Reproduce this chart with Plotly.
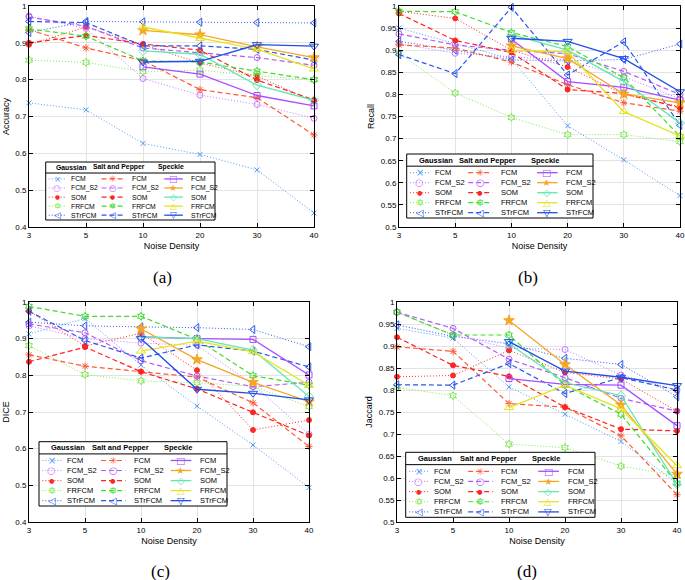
import plotly.graph_objects as go

W, H = 685, 580

# ---------------- data ----------------
noise_levels = ["3", "5", "10", "20", "30", "40"]
methods = ["FCM", "FCM_S2", "SOM", "FRFCM", "STrFCM"]
noise_types = ["Gaussian", "Salt and Pepper", "Speckle"]
metric_names = ["Accuracy", "Recall", "DICE", "Jaccard"]
panel_labels = ["(a)", "(b)", "(c)", "(d)"]

# rows: FCM, FCM_S2, SOM, FRFCM, STrFCM ; columns: noise density 3,5,10,20,30,40
accuracy_gaussian = [
    [0.737, 0.718, 0.627, 0.597, 0.555, 0.438],
    [0.973, 0.939, 0.803, 0.758, 0.733, 0.695],
    [0.895, 0.943, 0.895, 0.845, 0.810, 0.740],
    [0.853, 0.847, 0.822, 0.826, 0.810, 0.800],
    [0.928, 0.958, 0.957, 0.956, 0.955, 0.954],
]
accuracy_saltpepper = [
    [0.936, 0.886, 0.852, 0.773, 0.751, 0.650],
    [0.970, 0.945, 0.886, 0.874, 0.860, 0.839],
    [0.900, 0.920, 0.897, 0.880, 0.799, 0.745],
    [0.938, 0.918, 0.851, 0.848, 0.823, 0.800],
    [0.958, 0.955, 0.892, 0.892, 0.882, 0.853],
]
accuracy_speckle = [
    [None, None, 0.835, 0.815, 0.757, 0.729],
    [None, None, 0.934, 0.922, 0.889, 0.860],
    [None, None, 0.878, 0.869, 0.785, 0.744],
    [None, None, 0.943, 0.912, 0.883, 0.829],
    [None, None, 0.848, 0.850, 0.895, 0.891],
]

recall_gaussian = [
    [0.950, 0.915, 0.880, 0.729, 0.652, 0.571],
    [0.915, 0.893, 0.885, 0.878, 0.840, 0.790],
    [0.988, 0.972, 0.900, 0.862, 0.800, 0.772],
    [0.893, 0.803, 0.748, 0.709, 0.709, 0.693],
    [0.920, 0.900, 0.878, 0.876, 0.879, 0.914],
]
recall_saltpepper = [
    [0.912, 0.905, 0.873, 0.822, 0.781, 0.762],
    [0.937, 0.912, 0.900, 0.892, 0.852, 0.800],
    [0.983, 0.922, 0.895, 0.811, 0.802, 0.770],
    [0.988, 0.987, 0.940, 0.908, 0.838, 0.705],
    [0.890, 0.847, 0.997, 0.844, 0.919, 0.730],
]
recall_speckle = [
    [None, None, 0.925, 0.829, 0.816, 0.787],
    [None, None, 0.910, 0.881, 0.801, 0.781],
    [None, None, 0.935, 0.900, 0.829, 0.735],
    [None, None, 0.900, 0.896, 0.761, 0.706],
    [None, None, 0.927, 0.920, 0.881, 0.806],
]

dice_gaussian = [
    [0.913, 0.955, 0.828, 0.716, 0.610, 0.494],
    [0.935, 0.900, 0.888, 0.882, 0.775, 0.639],
    [0.975, 0.880, 0.915, 0.814, 0.651, 0.678],
    [0.881, 0.802, 0.785, 0.780, 0.770, 0.715],
    [0.945, 0.935, 0.932, 0.930, 0.925, 0.878],
]
dice_saltpepper = [
    [0.856, 0.825, 0.810, 0.795, 0.725, 0.606],
    [0.940, 0.916, 0.840, 0.798, 0.769, 0.781],
    [0.837, 0.877, 0.810, 0.763, 0.699, 0.636],
    [0.988, 0.961, 0.961, 0.898, 0.799, 0.773],
    [0.975, 0.895, 0.847, 0.883, 0.866, 0.823],
]
dice_speckle = [
    [None, None, 0.905, 0.900, 0.898, 0.801],
    [None, None, 0.927, 0.843, 0.781, 0.728],
    [None, None, 0.905, 0.900, 0.869, 0.742],
    [None, None, 0.866, 0.893, 0.864, 0.773],
    [None, None, 0.900, 0.762, 0.751, 0.733],
]

jaccard_gaussian = [
    [0.940, 0.918, 0.807, 0.745, 0.683, 0.588],
    [0.977, 0.925, 0.895, 0.892, 0.834, 0.800],
    [0.830, 0.833, 0.890, 0.840, 0.825, 0.752],
    [0.806, 0.787, 0.677, 0.669, 0.627, 0.605],
    [0.948, 0.922, 0.905, 0.872, 0.858, 0.785],
]
jaccard_saltpepper = [
    [0.898, 0.888, 0.769, 0.761, 0.696, 0.562],
    [0.977, 0.940, 0.870, 0.828, 0.781, 0.752],
    [0.920, 0.856, 0.831, 0.761, 0.711, 0.707],
    [0.977, 0.925, 0.925, 0.811, 0.745, 0.588],
    [0.812, 0.811, 0.860, 0.792, 0.828, 0.800],
]
jaccard_speckle = [
    [None, None, 0.826, 0.813, 0.811, 0.719],
    [None, None, 0.958, 0.858, 0.766, 0.609],
    [None, None, 0.905, 0.817, 0.787, 0.586],
    [None, None, 0.760, 0.811, 0.757, 0.628],
    [None, None, 0.910, 0.843, 0.829, 0.810],
]

metric_data = [
    [accuracy_gaussian, accuracy_saltpepper, accuracy_speckle],
    [recall_gaussian, recall_saltpepper, recall_speckle],
    [dice_gaussian, dice_saltpepper, dice_speckle],
    [jaccard_gaussian, jaccard_saltpepper, jaccard_speckle],
]
y_ranges = [[0.4, 1.0], [0.5, 1.0], [0.4, 1.0], [0.5, 1.0]]
y_dticks = [0.1, 0.05, 0.1, 0.05]

# ---------------- styles ----------------
colors = [
    ["#4d9aff", "#cc77ff", "#ff2a2a", "#7aea4a", "#2f5cf0"],
    ["#ff5a36", "#b35cf5", "#ff2222", "#3fdc2a", "#2a55ee"],
    ["#a64dff", "#f5a623", "#5fe8b4", "#e4e41e", "#1f4fe8"],
]
symbols = [
    ["x-thin-open", "circle-open", "circle", "hexagram-open", "triangle-left-open"],
    ["asterisk-open", "circle-open", "circle", "hexagram-open", "triangle-left-open"],
    ["square-open", "star", "diamond-open", "triangle-up-open", "triangle-down-open"],
]
sizes = [
    [5, 6, 5, 6, 7],
    [6, 6, 5, 6, 7],
    [6, 8, 7, 8, 8],
]
glyphs = [
    ["×", "○", "●", "✡", "◁"],
    ["✳", "○", "●", "✡", "◁"],
    ["□", "★", "◇", "△", "▽"],
]
glyph_scale = [
    [1.3, 1.3, 0.85, 1.3, 1.3],
    [1.3, 1.3, 0.85, 1.3, 1.3],
    [1.3, 1.3, 1.3, 1.3, 1.3],
]
dashes = ["1px,2px", "5px,3px", "solid"]
widths = [1.0, 1.2, 1.3]

# pixel geometry (left, top, right, bottom)
plot_boxes = [(29, 6, 314, 227), (399, 6, 680, 227), (29, 302, 309, 522), (397, 302, 677, 522)]
legend_boxes = [(45.7, 162, 215, 220), (406.7, 154, 593, 218), (39, 441.7, 227, 506), (405.7, 452.3, 595, 517.3)]
legend_font = [6.8, 7.5, 7.5, 7.5]
label_pos = [(162, 277), (528, 277), (160, 571), (527, 571)]

leg_header_fx = [0.155, 0.435, 0.74]
leg_header_fy = 0.094
leg_sep_fy = 0.19
leg_row_fy = [0.292, 0.448, 0.605, 0.761, 0.917]
leg_cols = [(0.018, 0.12, 0.069, 0.14), (0.33, 0.46, 0.395, 0.495), (0.70, 0.81, 0.753, 0.845)]


def px(x):
    return x / W


def py(y):
    return 1 - y / H


fig = go.Figure()
shapes = []
annotations = []
FONT = "Liberation Sans, Arial, sans-serif"

for i in range(4):
    sfx = "" if i == 0 else str(i + 1)
    for n in range(3):
        for m in range(5):
            vals = metric_data[i][n][m]
            fig.add_trace(go.Scatter(
                x=noise_levels, y=vals, mode="lines+markers",
                xaxis="x" + sfx, yaxis="y" + sfx,
                name=noise_types[n] + " " + methods[m],
                line=dict(color=colors[n][m], width=widths[n], dash=dashes[n]),
                marker=dict(symbol=symbols[n][m], size=sizes[n][m], color=colors[n][m],
                            line=dict(color=colors[n][m], width=1)),
                cliponaxis=False, showlegend=False,
            ))
    l, t, r, b = plot_boxes[i]
    axis_common = dict(
        showline=True, linecolor="black", linewidth=1, mirror="ticks",
        ticks="inside", ticklen=4, tickcolor="black", tickwidth=1,
        showgrid=True, gridcolor="#e3e3e3", gridwidth=1, zeroline=False,
        tickfont=dict(family=FONT, size=8, color="black"), automargin=False,
    )
    fig.update_layout(**{
        "xaxis" + sfx: dict(axis_common, type="category", range=[0, 5],
                            domain=[px(l), px(r)], anchor="y" + sfx,
                            title=dict(text="Noise Density", font=dict(family=FONT, size=9, color="black"), standoff=4)),
        "yaxis" + sfx: dict(axis_common, range=y_ranges[i], dtick=y_dticks[i], tick0=0,
                            domain=[py(b), py(t)], anchor="x" + sfx,
                            title=dict(text=metric_names[i], font=dict(family=FONT, size=9, color="black"), standoff=4)),
    })
    annotations.append(dict(text=panel_labels[i], x=px(label_pos[i][0]), y=py(label_pos[i][1]),
                            xref="paper", yref="paper", showarrow=False, xanchor="center", yanchor="middle",
                            font=dict(family="Liberation Serif, serif", size=17, color="black")))

    # legend box
    bx0, by0, bx1, by1 = legend_boxes[i]
    bw, bh = bx1 - bx0, by1 - by0
    fs = legend_font[i]
    shapes.append(dict(type="rect", xref="paper", yref="paper", x0=px(bx0), x1=px(bx1), y0=py(by1), y1=py(by0),
                       fillcolor="white", line=dict(color="black", width=1), layer="above"))
    shapes.append(dict(type="line", xref="paper", yref="paper", x0=px(bx0), x1=px(bx1),
                       y0=py(by0 + leg_sep_fy * bh), y1=py(by0 + leg_sep_fy * bh),
                       line=dict(color="black", width=1), layer="above"))
    for n in range(3):
        annotations.append(dict(text="<b>" + noise_types[n] + "</b>", xref="paper", yref="paper",
                                x=px(bx0 + leg_header_fx[n] * bw), y=py(by0 + leg_header_fy * bh),
                                showarrow=False, xanchor="center", yanchor="middle",
                                font=dict(family=FONT, size=fs, color="black")))
        sx0, sx1, mx, tx = leg_cols[n]
        for m in range(5):
            yy = py(by0 + leg_row_fy[m] * bh)
            shapes.append(dict(type="line", xref="paper", yref="paper",
                               x0=px(bx0 + sx0 * bw), x1=px(bx0 + sx1 * bw), y0=yy, y1=yy,
                               line=dict(color=colors[n][m], width=widths[n], dash=dashes[n]), layer="above"))
            annotations.append(dict(text=glyphs[n][m], xref="paper", yref="paper",
                                    x=px(bx0 + mx * bw), y=yy, showarrow=False, xanchor="center", yanchor="middle",
                                    bgcolor="rgba(0,0,0,0)", borderpad=0,
                                    font=dict(family="DejaVu Sans", size=fs * glyph_scale[n][m], color=colors[n][m])))
            annotations.append(dict(text=methods[m], xref="paper", yref="paper",
                                    x=px(bx0 + tx * bw), y=yy, showarrow=False, xanchor="left", yanchor="middle",
                                    font=dict(family=FONT, size=fs, color="black")))

fig.update_layout(
    width=W, height=H, margin=dict(l=0, r=0, t=0, b=0),
    paper_bgcolor="white", plot_bgcolor="white",
    shapes=shapes, annotations=annotations, showlegend=False,
)

fig.write_html(
    "out.html",
    config={"displayModeBar": False},
    post_script="document.body.style.margin='0';document.body.style.padding='0';"
                "document.body.style.overflow='hidden';",
)
